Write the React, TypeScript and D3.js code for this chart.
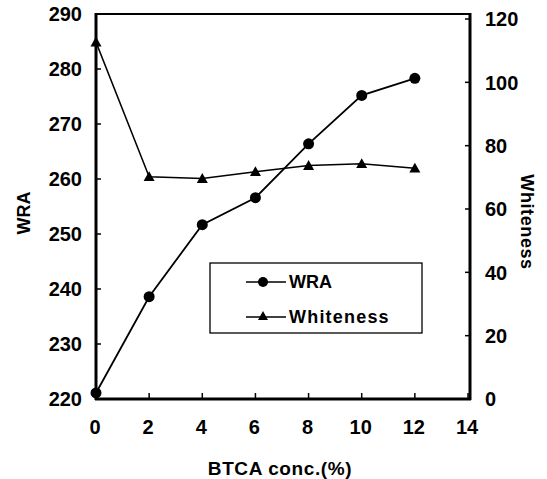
import React from "react";
import * as d3 from "d3";

const conc = [0, 2, 4, 6, 8, 10, 12];
const wra = [221.1, 238.6, 251.7, 256.6, 266.4, 275.2, 278.3];
const whiteness = [112.7, 70.2, 69.6, 71.8, 73.7, 74.3, 72.9];
const xTicks = [0, 2, 4, 6, 8, 10, 12, 14];
const leftTicks = [220, 230, 240, 250, 260, 270, 280, 290];
const rightTicks = [0, 20, 40, 60, 80, 100, 120];

const W = 547;
const H = 479;
const font = "'Liberation Sans', Arial, sans-serif";

export default function App() {
  const x = d3.scaleLinear().domain([0, 14]).range([96, 468]);
  const yL = d3.scaleLinear().domain([220, 290]).range([399, 14]);
  const yR = d3.scaleLinear().domain([0, 120]).range([399, 19]);

  const lineW = d3
    .line<number>()
    .x((_, i) => x(conc[i]))
    .y((d) => yL(d));
  const lineR = d3
    .line<number>()
    .x((_, i) => x(conc[i]))
    .y((d) => yR(d));

  const tri = (cx: number, cy: number, s = 5.5) =>
    `M${cx},${cy - s} L${cx + s},${cy + s * 0.8} L${cx - s},${cy + s * 0.8} Z`;

  return (
    <svg
      width={W}
      height={H}
      style={{ position: "absolute", left: 0, top: 0, background: "#fff" }}
      fontFamily={font}
      fontWeight="bold"
    >
      <rect x={0} y={0} width={W} height={H} fill="#fff" />
      {/* frame */}
      <line x1={96} x2={470} y1={14} y2={14} stroke="#000" strokeWidth={2} />
      <line x1={96} x2={96} y1={13} y2={400} stroke="#000" strokeWidth={3} />
      <line x1={470} x2={470} y1={13} y2={400} stroke="#000" strokeWidth={3} />
      <line x1={95} x2={471} y1={399} y2={399} stroke="#000" strokeWidth={3} />

      {/* left ticks */}
      {leftTicks.map((t) => (
        <g key={"l" + t}>
          <line x1={96} x2={101} y1={yL(t)} y2={yL(t)} stroke="#000" strokeWidth={1.5} />
          <text x={82} y={yL(t)} dy="0.36em" textAnchor="end" fontSize={20}>
            {t}
          </text>
        </g>
      ))}
      {/* right ticks */}
      {rightTicks.map((t) => (
        <g key={"r" + t}>
          <line x1={465} x2={470} y1={yR(t)} y2={yR(t)} stroke="#000" strokeWidth={1.5} />
          <text x={485} y={yR(t)} dy="0.36em" textAnchor="start" fontSize={20}>
            {t}
          </text>
        </g>
      ))}
      {/* bottom ticks */}
      {xTicks.map((t) => (
        <g key={"b" + t}>
          <line x1={x(t)} x2={x(t)} y1={399} y2={393} stroke="#000" strokeWidth={1.5} />
          <text x={x(t) - 1} y={434} textAnchor="middle" fontSize={20}>
            {t}
          </text>
        </g>
      ))}

      {/* axis titles */}
      <text
        transform="translate(30,213) rotate(-90)"
        textAnchor="middle"
        fontSize={18}
      >
        WRA
      </text>
      <text
        transform="translate(521,222) rotate(90)"
        textAnchor="middle"
        fontSize={18}
        letterSpacing={0.6}
      >
        Whiteness
      </text>
      <text x={280} y={475} textAnchor="middle" fontSize={19} letterSpacing={0.6}>
        BTCA conc.(%)
      </text>

      {/* series */}
      <path d={lineR(whiteness) || ""} fill="none" stroke="#000" strokeWidth={1.5} />
      {whiteness.map((v, i) => (
        <path key={"t" + i} d={tri(x(conc[i]), yR(v))} fill="#000" />
      ))}
      <path d={lineW(wra) || ""} fill="none" stroke="#000" strokeWidth={1.8} />
      {wra.map((v, i) => (
        <circle key={"c" + i} cx={x(conc[i])} cy={yL(v)} r={5.5} fill="#000" />
      ))}

      {/* legend */}
      <rect x={210} y={263} width={212} height={70} fill="#fff" stroke="#000" strokeWidth={1.3} />
      <line x1={246} x2={286} y1={282} y2={282} stroke="#000" strokeWidth={1.5} />
      <circle cx={263} cy={282} r={5} fill="#000" />
      <text x={289} y={282} dy="0.36em" fontSize={18}>
        WRA
      </text>
      <line x1={246} x2={286} y1={317} y2={317} stroke="#000" strokeWidth={1.5} />
      <path d={tri(263, 316, 5)} fill="#000" />
      <text x={289} y={317} dy="0.36em" fontSize={18} letterSpacing={1.2}>
        Whiteness
      </text>
    </svg>
  );
}
